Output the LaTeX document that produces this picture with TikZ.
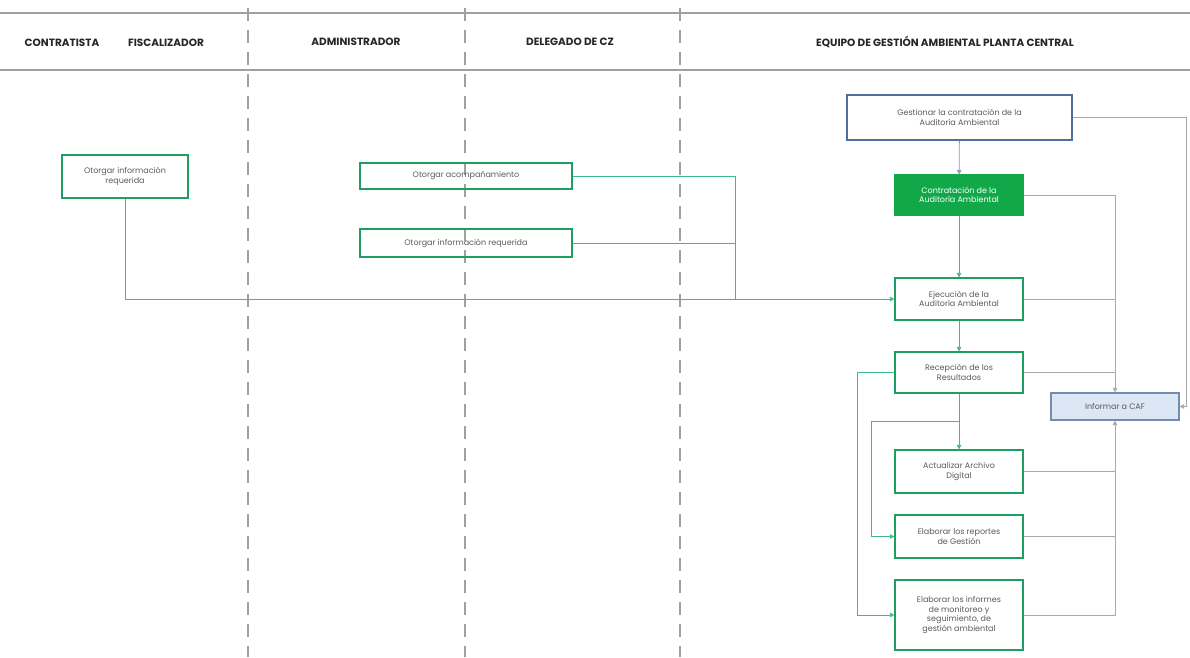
\documentclass[tikz,border=0pt]{standalone}
\usepackage{fontspec}
\setmainfont{Poppins}
\usetikzlibrary{arrows.meta}

\definecolor{bordeverde}{HTML}{1E9E62}
\definecolor{lineaverde}{HTML}{3DBB88}
\definecolor{rellenoverde}{HTML}{12A84A}
\definecolor{lineagris}{HTML}{A6A8AC}
\definecolor{bordeazul}{HTML}{4F6E9E}
\definecolor{rellenoazul}{HTML}{DCE6F4}
\definecolor{textogris}{HTML}{5A5A5A}
\definecolor{carril}{HTML}{A0A0A0}

\begin{document}
\begin{tikzpicture}[x=1pt, y=-1pt, font=\fontsize{8}{9.5}\selectfont,
                    caja/.style={draw=bordeverde, line width=1.2pt, align=center,
                                 text=textogris, inner sep=2pt, minimum width=128pt},
                    cajaazul/.style={caja, draw=bordeazul!80, fill=rellenoazul},
                    titulo/.style={font=\fontsize{10.5}{12}\selectfont\bfseries, text=black!85},
                    flecha/.style={-{Triangle[length=4.5pt,width=4.5pt]}},
                    verde/.style={draw=lineaverde, line width=0.8pt},
                    gris/.style={draw=lineagris, line width=0.8pt}]
\useasboundingbox (0,0) rectangle (1190,657);

% carriles
\draw[carril, line width=1.2pt] (0,13) -- (1190,13);
\draw[carril, line width=1.2pt] (0,70) -- (1190,70);
\foreach \xc in {248,465,680}
    \draw[carril, line width=1.2pt, dash pattern=on 13pt off 9pt] (\xc,8) -- (\xc,657);

\node[titulo] (tcon) at (62,43) {CONTRATISTA};
\node[titulo] (tfis) at (166,43) {FISCALIZADOR};
\node[titulo] (tadm) at (356,42) {ADMINISTRADOR};
\node[titulo] (tdel) at (570,42) {DELEGADO DE CZ};
\node[titulo] (tequ) at (945,42) {EQUIPO DE GESTIÓN AMBIENTAL PLANTA CENTRAL};

% cajas
\node[caja, minimum width=126pt, minimum height=43pt] (otorgar) at (125,176.5)
    {Otorgar información\\requerida};
\node[caja, minimum width=212pt, minimum height=26pt] (acomp) at (466,176)
    {Otorgar acompañamiento};
\node[caja, minimum width=212pt, minimum height=28pt] (infreq) at (466,243)
    {Otorgar información requerida};
\node[caja, draw=bordeazul, minimum width=225pt, minimum height=45pt] (gestionar) at (959.5,117.5)
    {Gestionar la contratación de la\\Auditoría Ambiental};
\node[caja, draw=rellenoverde, fill=rellenoverde, text=white, minimum height=40pt] (contrat) at (959,195)
    {Contratación de la\\Auditoría Ambiental};
\node[caja, minimum height=42pt] (ejec) at (959,299)
    {Ejecución de la\\Auditoría Ambiental};
\node[caja, minimum height=41pt] (recep) at (959,372.5)
    {Recepción de los\\Resultados};
\node[cajaazul, minimum height=27pt] (caf) at (1115,406.5)
    {Informar a CAF};
\node[caja, minimum height=43pt] (archivo) at (959,471.5)
    {Actualizar Archivo\\Digital};
\node[caja, minimum height=43pt] (reportes) at (959,536.5)
    {Elaborar los reportes\\de Gestión};
\node[caja, minimum height=70pt] (informes) at (959,615)
    {Elaborar los informes\\de monitoreo y\\seguimiento, de\\gestión ambiental};

\coordinate (union) at (735,299);
\coordinate (rama) at (959,421);

% conectores verdes
\draw[verde, flecha] (otorgar.south) |- (ejec.west);
\draw[verde] (acomp.east) -| (union);
\draw[verde] (infreq.east) -| (union);
\draw[verde, flecha] (contrat) -- (ejec);
\draw[verde, flecha] (ejec) -- (recep);
\draw[verde, flecha] (recep) -- (archivo);
\draw[verde, flecha] (rama) -- ++(-88,0) |- (reportes.west);
\draw[verde, flecha] (recep.west) -- ++(-37,0) |- (informes.west);

% conectores grises
\draw[draw=bordeazul!70, line width=0.8pt, flecha] (gestionar) -- (contrat);
\draw[gris, flecha] (gestionar.east) -- ++(114,0) |- (caf.east);
\draw[gris, flecha] (contrat.east) -| (caf.north);
\draw[gris] (ejec.east) -- (caf.north |- ejec.east);
\draw[gris] (recep.east) -- (caf.north |- recep.east);
\draw[gris] (archivo.east) -- (caf.south |- archivo.east);
\draw[gris] (reportes.east) -- (caf.south |- reportes.east);
\draw[gris, flecha] (informes.east) -| (caf.south);
\end{tikzpicture}
\end{document}
